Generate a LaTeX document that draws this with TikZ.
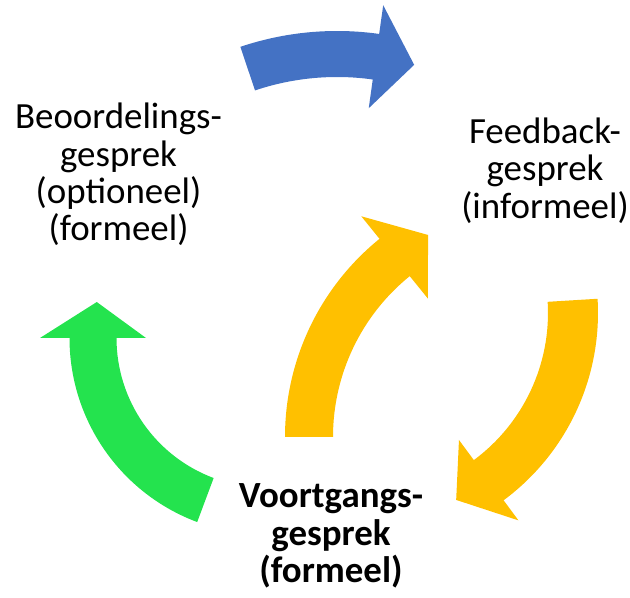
\documentclass[tikz,border=0pt]{standalone}
\usepackage{fontspec}
\setmainfont{Carlito}
\usepackage{xcolor}
\definecolor{CycleBlue}{HTML}{4472C4}
\definecolor{CycleGold}{HTML}{FFC000}
\definecolor{CycleGreen}{HTML}{24E34E}
\definecolor{CycleInk}{HTML}{000000}

% curved block arrow: colour, centre, mid radius, half width,
% start angle, angle of head base, tip angle, half width of head
\newcommand{\bendarrow}[8]{%
    \pgfmathsetmacro{\arOut}{#3+#4}%
    \pgfmathsetmacro{\arIn}{#3-#4}%
    \pgfmathsetmacro{\arHeadOut}{#3+#8}%
    \pgfmathsetmacro{\arHeadIn}{#3-#8}%
    \fill[#1, shift={(#2)}]
        (#5:\arOut) arc[start angle=#5, end angle=#6, radius=\arOut]
        -- (#6:\arHeadOut) -- (#7:#3) -- (#6:\arHeadIn)
        -- (#6:\arIn) arc[start angle=#6, end angle=#5, radius=\arIn]
        -- cycle;
}

\begin{document}
\begin{tikzpicture}[
        x=0.02cm, y=0.02cm,
        phase/.style={
            text=CycleInk,
            inner sep=0pt,
            align=center,
            font=\fontsize{21}{21.3}\selectfont
        },
        mainphase/.style={
            phase,
            font=\fontsize{21}{21.3}\selectfont\bfseries
        }
    ]
        \useasboundingbox (0,0) rectangle (630,598);

        \bendarrow{CycleBlue}{337,264}{280}{23}{108.6}{82}{74}{52}
        \bendarrow{CycleGold}{365,285}{208}{25}{3.5}{-53.5}{-64}{50}
        \bendarrow{CycleGold}{540,161}{231}{24}{180}{129}{119}{53}
        \bendarrow{CycleGreen}{266,260}{173}{23.5}{249.5}{180}{168}{53}

        \node[phase] (beoordeling) at (118.5,423.5)
            {Beoordelings-\\gesprek\\(optioneel)\\(formeel)};
        \node[phase] (feedback) at (545,427.4)
            {Feedback-\\gesprek\\(informeel)};
        \node[mainphase] (voortgang) at (331,62)
            {Voortgangs-\\gesprek\\(formeel)};
    \end{tikzpicture}
\end{document}
